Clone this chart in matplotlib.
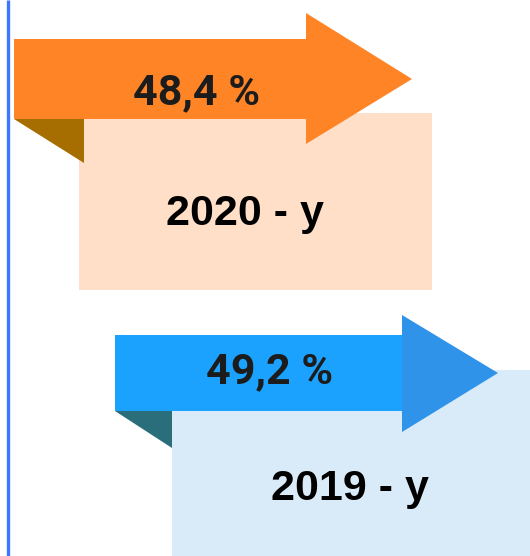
import matplotlib.pyplot as plt
from matplotlib.patches import Polygon, Rectangle

# data
years = ["2020", "2019"]
shares = [48.4, 49.2]

# colours per year: shaft, head, fold, card
shaft_cols = ["#FF8426", "#1BA2FF"]
head_cols = ["#FF8426", "#2F93E9"]
fold_cols = ["#A66D00", "#2A6E7C"]
card_cols = ["#FFDFC7", "#D9EAF8"]

# layout in pixels (x0 shaft, shaft top/bottom, head base/top/bottom/tip, card box)
shaft_x = [(14, 306), (115, 402)]
shaft_y = [(39, 119), (335, 411)]
head_y = [(13, 144), (315, 432)]
tip_x = [412, 498]
card_box = [(79, 113, 432, 290), (172, 370, 530, 556)]
fold_x = [84, 172]
fold_bottom = [163, 448]
pct_pos = [(197, 104), (270, 383)]
year_pos = [(245, 225), (350, 500)]

fig = plt.figure(figsize=(5.30, 5.56), dpi=100)
ax = fig.add_axes([0, 0, 1, 1])
ax.set_xlim(0, 530)
ax.set_ylim(556, 0)
ax.axis("off")

# blue rule on the left
ax.plot([8, 8], [0, 556], color="#3C78FF", lw=2.4, solid_capstyle="butt")

for i in range(len(years)):
    cx0, cy0, cx1, cy1 = card_box[i]
    ax.add_patch(Rectangle((cx0, cy0), cx1 - cx0, cy1 - cy0, color=card_cols[i], lw=0))
    x0, x1 = shaft_x[i]
    y0, y1 = shaft_y[i]
    ax.add_patch(Polygon([(x0, y1), (fold_x[i], y1), (fold_x[i], fold_bottom[i])],
                         closed=True, color=fold_cols[i], lw=0))
    ax.add_patch(Rectangle((x0, y0), x1 - x0, y1 - y0, color=shaft_cols[i], lw=0))
    hy0, hy1 = head_y[i]
    ax.add_patch(Polygon([(x1, hy0), (tip_x[i], (y0 + y1) / 2), (x1, hy1)],
                         closed=True, color=head_cols[i], lw=0))

    label = f"{shares[i]:.1f}".replace(".", ",") + " %"
    ax.text(pct_pos[i][0], pct_pos[i][1], label, ha="center", va="baseline",
            fontsize=31, fontweight="bold", family="Roboto", color="#1c1c1c")
    ax.text(year_pos[i][0], year_pos[i][1], years[i] + " - y", ha="center", va="baseline",
            fontsize=31, fontweight="bold", family="Liberation Sans", color="#000000")

fig.savefig("out.png", dpi=100)
